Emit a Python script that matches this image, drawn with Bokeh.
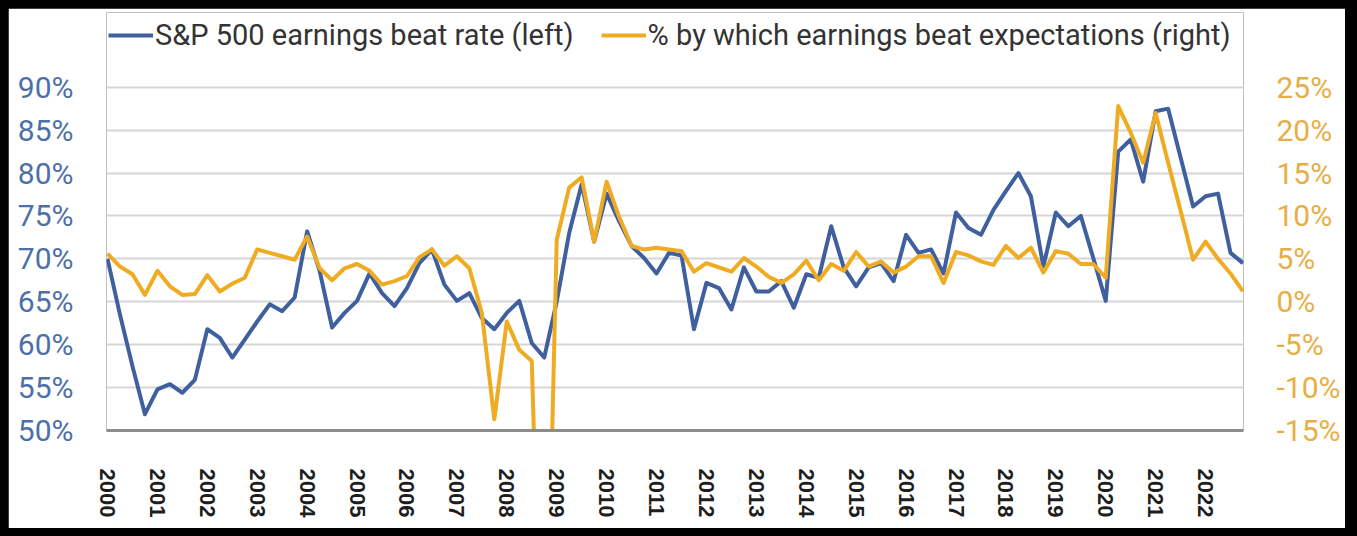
from bokeh.plotting import figure
from bokeh.models import (Range1d, LinearAxis, FixedTicker, PrintfTickFormatter,
                          Legend, LegendItem)
from bokeh.embed import file_html
from bokeh.resources import INLINE

# ---- data (quarterly, 2000Q1 .. 2022Q4) ----
years = list(range(2000, 2023))
quarters = [f"{y}Q{q}" for y in years for q in range(1, 5)]

beat_rate = [
    70.0, 63.5, 57.5, 51.9, 54.8, 55.4, 54.4, 55.9, 61.8, 60.8, 58.5, 60.6,
    62.7, 64.7, 63.9, 65.5, 73.2, 68.6, 62.0, 63.7, 65.1, 68.3, 66.0, 64.5,
    66.6, 69.5, 71.1, 67.0, 65.1, 66.0, 63.1, 61.8, 63.7, 65.1, 60.2, 58.5,
    65.0, 73.0, 78.7, 72.0, 77.6, 74.4, 71.5, 70.1, 68.3, 70.7, 70.4, 61.8,
    67.2, 66.6, 64.1, 69.0, 66.2, 66.2, 67.4, 64.3, 68.2, 67.8, 73.8, 69.0,
    66.8, 69.0, 69.5, 67.4, 72.8, 70.7, 71.1, 68.3, 75.4, 73.6, 72.8, 75.7,
    77.9, 80.0, 77.3, 69.1, 75.4, 73.8, 75.0, 70.1, 65.1, 82.5, 83.9, 79.0,
    87.2, 87.5, 81.8, 76.1, 77.3, 77.6, 70.7, 69.5,
]
beat_pct = [
    5.6, 4.1, 3.2, 0.8, 3.6, 1.8, 0.8, 0.9, 3.1, 1.2, 2.1, 2.8,
    6.1, 5.7, 5.3, 4.9, 7.6, 3.9, 2.5, 3.9, 4.4, 3.6, 2.0, 2.4,
    3.0, 5.2, 6.1, 4.2, 5.3, 3.9, -1.3, -13.7, -2.3, -5.6, -6.9, -55.0,
    7.2, 13.3, 14.5, 7.0, 14.0, 9.9, 6.5, 6.1, 6.3, 6.1, 5.9, 3.5,
    4.5, 4.0, 3.5, 5.1, 4.1, 2.9, 2.2, 3.2, 4.8, 2.5, 4.4, 3.6,
    5.8, 4.1, 4.7, 3.4, 4.1, 5.3, 5.3, 2.2, 5.8, 5.4, 4.7, 4.3,
    6.5, 5.1, 6.3, 3.4, 5.9, 5.6, 4.4, 4.4, 2.8, 22.8, 19.7, 16.2,
    22.0, 16.2, 10.6, 4.9, 7.0, 5.0, 3.3, 1.2,
]
left_ticks = [50, 55, 60, 65, 70, 75, 80, 85, 90]
right_ticks = [-15, -10, -5, 0, 5, 10, 15, 20, 25]
label_left = "S&P 500 earnings beat rate (left)"
label_right = "% by which earnings beat expectations (right)"

BLUE = "#3f5f9f"
ORANGE = "#efab22"

x = list(range(len(quarters)))
year_ticks = [4 * i for i in range(len(years))]

# frame extends up to hold the legend; 5% steps are 8.58 px tall
FRAME_H = 520 - 4 - 98
PX_PER_PCT = 343.3 / 40
top_extra = FRAME_H / PX_PER_PCT

p = figure(width=1337, height=520, output_backend="svg", toolbar_location=None,
           x_range=Range1d(-0.08, 91.04), y_range=Range1d(50, 50 + top_extra),
           min_border_left=98, min_border_right=102, min_border_top=4,
           min_border_bottom=98, background_fill_color="white",
           border_fill_color="white", outline_line_color=None)
p.extra_y_ranges = {"right": Range1d(-15, -15 + top_extra)}

r_blue = p.line(x, beat_rate, line_color=BLUE, line_width=4, line_join="round")
r_orange = p.line(x, beat_pct, line_color=ORANGE, line_width=4,
                  line_join="round", y_range_name="right")

# x axis
xa = p.xaxis[0]
xa.ticker = FixedTicker(ticks=year_ticks)
xa.major_label_overrides = {t: str(y) for t, y in zip(year_ticks, years)}
xa.major_label_orientation = "vertical"
xa.major_label_text_font = "Liberation Sans"
xa.major_label_text_font_size = "22px"
xa.major_label_text_font_style = "bold"
xa.major_label_text_color = "#1e1e1e"
xa.major_label_standoff = 32
xa.major_tick_line_color = None
xa.minor_tick_line_color = None
xa.axis_line_color = "#8c8c8c"
xa.axis_line_width = 3

# left axis
ya = p.yaxis[0]
ya.ticker = FixedTicker(ticks=left_ticks)
ya.formatter = PrintfTickFormatter(format="%d%%")
ya.major_label_text_font = "Roboto"
ya.major_label_text_font_size = "30px"
ya.major_label_text_color = "#4d6fa8"
ya.major_label_standoff = 27
ya.major_tick_line_color = None
ya.minor_tick_line_color = None
ya.axis_line_color = None

# right axis
ra = LinearAxis(y_range_name="right", ticker=FixedTicker(ticks=right_ticks),
                formatter=PrintfTickFormatter(format="%d%%"))
ra.major_label_text_font = "Roboto"
ra.major_label_text_font_size = "30px"
ra.major_label_text_color = "#e8ae45"
ra.major_label_standoff = 27
ra.major_tick_line_color = None
ra.minor_tick_line_color = None
ra.axis_line_color = None
p.add_layout(ra, "right")

p.xgrid.grid_line_color = None
p.ygrid.grid_line_color = "#d6d6d6"
p.ygrid.grid_line_width = 2

legend = Legend(items=[LegendItem(label=label_left, renderers=[r_blue]),
                       LegendItem(label=label_right, renderers=[r_orange])],
                orientation="horizontal", location=(2, 378), padding=0, margin=0,
                spacing=27, glyph_width=45, glyph_height=20, label_standoff=2,
                label_text_font="Roboto", label_text_font_size="29px",
                label_text_color="#333333", border_line_color=None,
                background_fill_alpha=0)
p.add_layout(legend, "center")

html = file_html(p, INLINE)
i = html.rfind("<body")
html = html[:i] + '<body style="margin:8px;background-color:#000000;"' + html[i + 5:]
open("out.html", "w").write(html)
